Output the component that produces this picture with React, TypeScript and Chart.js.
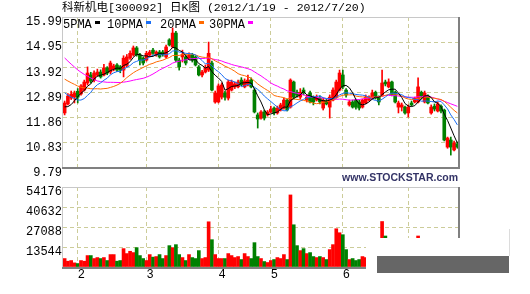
import React, { useEffect, useRef } from 'react';
import { Chart, registerables } from 'chart.js';

Chart.register(...registerables);

// Daily candles, 2012/1/19 - 2012/7/20
const openP = [
  12.05, 12.42, 12.66, 12.70, 12.94, 12.83, 12.99, 13.28, 13.61, 13.40,
  13.60, 13.73, 13.61, 13.90, 13.73, 13.86, 14.02, 13.95, 13.81, 14.00,
  14.30, 14.43, 14.72, 14.43, 14.30, 14.22, 14.43, 14.63, 14.43, 14.55,
  14.55, 14.35, 15.05, 14.76, 15.33, 14.22, 14.35, 14.35, 14.30, 14.43,
  14.35, 13.94, 13.61, 13.73, 13.81, 14.10, 12.50, 12.50, 12.70, 12.87,
  12.66, 12.99, 13.12, 13.12, 13.40, 13.12, 13.20, 13.40, 12.99, 11.97,
  11.84, 12.09, 11.97, 12.09, 12.25, 12.05, 12.17, 12.25, 12.58, 12.29,
  13.32, 12.90, 12.70, 12.99, 12.58, 12.87, 12.66, 12.58, 12.66, 12.25,
  12.54, 12.29, 12.58, 12.70, 12.99, 13.61, 12.99, 12.38, 12.50, 12.58,
  12.50, 12.29, 12.46, 12.58, 12.66, 12.90, 12.70, 12.79, 13.32, 13.12,
  13.32, 12.90, 12.29, 12.29, 12.29, 12.05, 12.46, 12.50, 12.50, 12.90,
  12.50, 12.75, 12.05, 12.33, 12.13, 12.33, 12.17, 10.65, 10.94, 10.53,
  10.78,
];
const highP = [
  12.54, 12.85, 12.95, 12.95, 13.05, 13.22, 13.40, 13.94, 13.72, 13.78,
  13.85, 13.82, 14.05, 13.95, 14.18, 14.05, 14.08, 14.00, 14.40, 14.45,
  14.60, 14.80, 14.78, 14.50, 14.35, 14.58, 14.62, 14.70, 14.60, 14.62,
  14.62, 14.84, 15.10, 15.54, 15.40, 14.30, 14.63, 14.43, 14.52, 14.50,
  14.40, 14.00, 13.80, 14.02, 14.96, 14.18, 12.95, 13.24, 13.28, 12.95,
  13.40, 13.40, 13.32, 13.40, 13.50, 13.45, 13.61, 13.49, 13.05, 12.05,
  12.15, 12.17, 12.15, 12.33, 12.30, 12.33, 12.45, 12.66, 12.62, 13.45,
  13.36, 12.99, 13.05, 13.08, 12.79, 12.95, 12.75, 12.79, 12.75, 12.66,
  12.62, 12.79, 13.08, 13.40, 13.81, 13.81, 13.05, 12.58, 12.58, 12.62,
  12.58, 12.62, 12.79, 12.75, 12.99, 12.95, 12.75, 13.81, 13.40, 13.45,
  13.36, 12.95, 12.54, 12.46, 12.33, 12.38, 12.54, 12.70, 13.49, 12.95,
  12.95, 12.79, 12.38, 12.42, 12.50, 12.38, 12.21, 11.06, 11.06, 10.90,
  10.86,
];
const lowP = [
  11.97, 12.38, 12.60, 12.46, 12.46, 12.78, 12.95, 13.20, 13.28, 13.32,
  13.55, 13.48, 13.57, 13.62, 13.65, 13.78, 13.75, 13.70, 13.53, 13.95,
  14.25, 14.38, 14.38, 14.02, 14.02, 14.18, 14.38, 14.45, 14.38, 14.30,
  14.38, 14.30, 14.80, 14.72, 14.15, 13.81, 14.14, 14.02, 14.25, 14.14,
  13.98, 13.57, 13.53, 13.69, 13.75, 12.95, 12.45, 12.46, 12.62, 12.58,
  12.58, 12.95, 13.05, 13.08, 13.16, 13.08, 13.16, 13.08, 12.05, 11.43,
  11.80, 11.76, 11.92, 12.05, 11.97, 12.00, 12.13, 12.21, 12.13, 12.25,
  12.62, 12.70, 12.62, 12.79, 12.50, 12.46, 12.38, 12.54, 12.42, 12.17,
  12.38, 11.84, 12.54, 12.66, 12.95, 13.05, 12.70, 12.33, 12.25, 12.21,
  12.17, 12.25, 12.42, 12.54, 12.62, 12.62, 12.38, 12.75, 13.16, 13.08,
  12.75, 12.46, 12.05, 12.13, 12.00, 11.88, 12.33, 12.46, 12.46, 12.62,
  12.46, 12.42, 12.00, 12.13, 12.09, 12.05, 10.90, 10.60, 10.32, 10.49,
  10.60,
];
const closeP = [
  12.46, 12.75, 12.82, 12.87, 12.70, 13.16, 13.32, 13.69, 13.36, 13.69,
  13.73, 13.53, 13.90, 13.69, 14.10, 13.98, 13.81, 13.81, 14.30, 14.35,
  14.50, 14.72, 14.43, 14.22, 14.10, 14.50, 14.55, 14.50, 14.55, 14.35,
  14.45, 14.76, 14.84, 15.33, 14.22, 13.94, 14.45, 14.10, 14.43, 14.22,
  14.02, 13.61, 13.73, 13.90, 14.50, 12.99, 12.87, 13.16, 13.20, 12.70,
  13.32, 13.32, 13.24, 13.32, 13.20, 13.36, 13.40, 13.12, 12.09, 11.80,
  12.09, 11.84, 12.09, 12.21, 12.05, 12.25, 12.38, 12.58, 12.17, 13.40,
  12.70, 12.79, 12.90, 12.87, 12.70, 12.50, 12.50, 12.70, 12.50, 12.58,
  12.42, 12.70, 12.99, 13.32, 13.69, 13.12, 12.79, 12.50, 12.29, 12.29,
  12.25, 12.58, 12.70, 12.70, 12.87, 12.66, 12.50, 13.28, 13.24, 13.32,
  12.79, 12.50, 12.46, 12.38, 12.05, 12.29, 12.38, 12.66, 13.12, 12.70,
  12.87, 12.46, 12.29, 12.21, 12.42, 12.13, 10.94, 11.02, 10.65, 10.82,
  10.65,
];
// Closes of the sessions before 2012/1/19, used to seed the moving averages
const priorCloses = [
  16.70, 16.55, 16.40, 16.25, 16.10, 15.95, 15.80, 15.70, 15.60, 15.45,
  14.32, 14.25, 14.18, 14.11, 14.04, 13.96, 13.89, 13.82, 13.75, 13.68,
  13.75, 13.60, 13.46, 13.32, 13.17, 12.70, 12.40, 12.10, 11.84,
];
const volumes = [
  5720, 3925, 4375, 2800, 2355, 4375, 3925, 7740, 7740, 5720,
  6390, 5720, 6390, 4375, 8410, 8410, 3925, 4375, 12450, 9085,
  10650, 9760, 13120, 7740, 5720, 4375, 8410, 6700, 7070, 8410,
  5720, 7740, 14470, 13120, 15140, 8410, 6390, 4375, 8410, 6390,
  5720, 11100, 5720, 6390, 30620, 18500, 8410, 5720, 5720, 5720,
  9085, 7740, 6390, 7070, 5050, 9085, 7070, 5720, 16490, 7070,
  5720, 3700, 3030, 4375, 5050, 6390, 5720, 8410, 5050, 48800,
  28600, 14470, 11100, 12450, 9085, 9760, 7070, 6390, 7070, 6390,
  5050, 11780, 15140, 25900, 23200, 21870, 11780, 5050, 5720, 4375,
  5050, 7070, 6390, 5000, 7000, 6000, 5500, 30800, 21000, 9000,
  11000, 8000, 6500, 5000, 5500, 6000, 4500, 5000, 21000, 9000,
  8500, 7000, 6000, 5500, 6500, 5000, 17000, 12000, 11000, 8000,
  6000,
];

// First session of each month and its label
const monthStarts = [4, 25, 47, 63, 85, 105];
const monthNames = ['2', '3', '4', '5', '6', '7'];

const priceLabels = ['9.79', '10.83', '11.86', '12.89', '13.92', '14.95', '15.99'];
const volumeLabels = ['0', '13544', '27088', '40632', '54176'];

const maPeriods = [5, 10, 20, 30];
const maNames = ['5PMA', '10PMA', '20PMA', '30PMA'];
const maColors = ['#000000', '#1a6ef5', '#ff6a00', '#ff00ff'];

const TITLE = '科新机电[300092] 日K图 (2012/1/19 - 2012/7/20)';
const SITE = 'www.STOCKSTAR.com';

const UP = '#ff0000';
const DOWN = '#008000';
const GRID = '#cccc99';
const FRAME_LIGHT = '#c8c8c8';
const FRAME_DARK = '#808080';
const MONO = '"Liberation Mono", "DejaVu Sans Mono", monospace';
const CLEAR = 'rgba(0,0,0,0)';

const W = 530;
const MAIN_H = 184;
const VOL_H = 110;

const categories = closeP.map((_, i) => String(i));
const candleColors = closeP.map((c, i) => (c >= openP[i] ? UP : DOWN));

function movingAverage(period: number): number[] {
  const all = priorCloses.concat(closeP);
  const off = priorCloses.length;
  return closeP.map((_, i) => {
    let s = 0;
    for (let k = 0; k < period; k++) s += all[off + i - k];
    return s / period;
  });
}

const PMIN = parseFloat(priceLabels[0]);
const PMAX = parseFloat(priceLabels[priceLabels.length - 1]);
const VMAX = parseFloat(volumeLabels[volumeLabels.length - 1]);

const xScale = {
  type: 'category' as const,
  offset: true,
  grid: {
    offset: false,
    drawTicks: false,
    lineWidth: 1,
    color: (c: any) => (monthStarts.includes(c.index) ? GRID : CLEAR),
  },
  border: { display: false, dash: [4, 3] },
  ticks: { display: false, autoSkip: false },
};

const mainDecor = {
  id: 'mainDecor',
  afterDraw(chart: any) {
    const { ctx, chartArea: a, scales } = chart;
    ctx.save();
    // frame
    ctx.fillStyle = FRAME_LIGHT;
    ctx.fillRect(a.left - 1, a.top, a.right - a.left + 1, 1);
    ctx.fillRect(a.left - 1, a.top, 1, a.bottom - a.top);
    ctx.fillStyle = FRAME_DARK;
    ctx.fillRect(a.right - 1, a.top, 2, a.bottom - a.top + 1);
    ctx.fillRect(a.left - 1, a.bottom - 1, a.right - a.left + 2, 2);

    // title
    ctx.fillStyle = '#000';
    ctx.textBaseline = 'middle';
    ctx.textAlign = 'left';
    ctx.font = `11.5px ${MONO}, "Noto Sans CJK SC"`;
    ctx.fillText(TITLE, 62, 7.5);

    // price labels
    ctx.font = `12px ${MONO}`;
    ctx.textAlign = 'right';
    priceLabels.forEach((t, k) => {
      const v = PMIN + (k * (PMAX - PMIN)) / (priceLabels.length - 1);
      ctx.fillText(t, 62, scales.y.getPixelForValue(v) + 5);
    });

    // moving-average legend
    ctx.textAlign = 'left';
    const legendX = [63, 107, 160, 209];
    maNames.forEach((n, k) => {
      ctx.fillStyle = '#000';
      ctx.fillText(n, legendX[k], a.top + 7.5);
      const w = ctx.measureText(n).width;
      ctx.fillStyle = maColors[k];
      ctx.fillRect(Math.round(legendX[k] + w + 3), a.top + 4, 5, 3);
    });

    // site name
    ctx.fillStyle = '#333366';
    ctx.textAlign = 'right';
    ctx.font = 'bold 10.5px "Liberation Sans", Arial, sans-serif';
    ctx.fillText(SITE, 458, a.bottom + 10);
    ctx.restore();
  },
};

const volDecor = {
  id: 'volDecor',
  afterDraw(chart: any) {
    const { ctx, chartArea: a, scales } = chart;
    ctx.save();
    ctx.fillStyle = FRAME_LIGHT;
    ctx.fillRect(a.left - 1, a.top, a.right - a.left + 1, 1);
    ctx.fillRect(a.left - 1, a.top, 1, a.bottom - a.top);
    ctx.fillStyle = FRAME_DARK;
    ctx.fillRect(a.right - 1, a.top, 2, a.bottom - a.top + 1);
    ctx.fillRect(a.left - 1, a.bottom, a.right - a.left + 2, 2);

    ctx.fillStyle = '#000';
    ctx.font = `12px ${MONO}`;
    ctx.textBaseline = 'middle';
    ctx.textAlign = 'right';
    volumeLabels.forEach((t, k) => {
      if (k === 0) return;
      ctx.fillText(t, 62, scales.y.getPixelForValue(parseFloat(t)) + 5);
    });

    ctx.textAlign = 'left';
    monthStarts.forEach((idx, k) => {
      ctx.fillText(monthNames[k], scales.x.getPixelForValue(idx), a.bottom + 8);
    });

    // toolbar panel in the lower right corner
    ctx.fillStyle = '#ffffff';
    ctx.fillRect(366, a.top + 51, W - 366, VOL_H - a.top - 51);
    ctx.fillStyle = '#dcdcdc';
    ctx.fillRect(509, a.top + 42, 1, 27);
    ctx.fillStyle = '#666666';
    ctx.fillRect(377, a.top + 69, 132, 17);
    ctx.restore();
  },
};

export default function App() {
  const mainRef = useRef<HTMLCanvasElement>(null);
  const volRef = useRef<HTMLCanvasElement>(null);

  useEffect(() => {
    const mainChart = new Chart(mainRef.current as HTMLCanvasElement, {
      type: 'bar',
      data: {
        labels: categories,
        datasets: [
          ...maPeriods.map((p, k) => ({
            type: 'line' as const,
            label: maNames[k],
            data: movingAverage(p),
            borderColor: maColors[k],
            borderWidth: 1,
            pointRadius: 0,
            tension: 0,
            order: 0,
          })),
          {
            type: 'bar' as const,
            label: 'body',
            data: openP.map((o, i) => [o, closeP[i]]),
            backgroundColor: candleColors,
            barThickness: 3,
            grouped: false,
            minBarLength: 1,
            order: 1,
          },
          {
            type: 'bar' as const,
            label: 'shadow',
            data: lowP.map((l, i) => [l, highP[i]]),
            backgroundColor: candleColors,
            barThickness: 1,
            grouped: false,
            order: 2,
          },
        ] as any,
      },
      options: {
        animation: false,
        responsive: false,
        events: [],
        layout: { padding: { left: 63, right: W - 459, top: 17, bottom: MAIN_H - 168 } },
        plugins: { legend: { display: false }, tooltip: { enabled: false } },
        scales: {
          x: xScale as any,
          y: {
            min: PMIN,
            max: PMAX,
            afterBuildTicks: (scale: any) => {
              scale.ticks = priceLabels.map((_, k) => ({
                value: PMIN + (k * (PMAX - PMIN)) / (priceLabels.length - 1),
              }));
            },
            grid: {
              drawTicks: false,
              lineWidth: 1,
              color: (c: any) => (c.index > 0 && c.index < priceLabels.length - 1 ? GRID : CLEAR),
            },
            border: { display: false, dash: [4, 3] },
            ticks: { display: false },
          },
        },
      },
      plugins: [mainDecor],
    });

    const volChart = new Chart(volRef.current as HTMLCanvasElement, {
      type: 'bar',
      data: {
        labels: categories,
        datasets: [
          {
            label: 'volume',
            data: volumes,
            backgroundColor: candleColors,
            barThickness: 3,
          },
        ],
      },
      options: {
        animation: false,
        responsive: false,
        events: [],
        layout: { padding: { left: 63, right: W - 459, top: 3, bottom: VOL_H - 83 } },
        plugins: { legend: { display: false }, tooltip: { enabled: false } },
        scales: {
          x: xScale as any,
          y: {
            min: 0,
            max: VMAX,
            afterBuildTicks: (scale: any) => {
              scale.ticks = volumeLabels.map((t) => ({ value: parseFloat(t) }));
            },
            grid: {
              drawTicks: false,
              lineWidth: 1,
              color: (c: any) => (c.index > 0 && c.index < volumeLabels.length - 1 ? GRID : CLEAR),
            },
            border: { display: false, dash: [4, 3] },
            ticks: { display: false },
          },
        },
      },
      plugins: [volDecor],
    });

    return () => {
      mainChart.destroy();
      volChart.destroy();
    };
  }, []);

  return (
    <div style={{ position: 'fixed', left: 0, top: 0, width: W, height: MAIN_H + VOL_H, background: '#fff' }}>
      <canvas ref={mainRef} width={W} height={MAIN_H} style={{ position: 'absolute', left: 0, top: 0 }} />
      <canvas ref={volRef} width={W} height={VOL_H} style={{ position: 'absolute', left: 0, top: MAIN_H }} />
    </div>
  );
}
